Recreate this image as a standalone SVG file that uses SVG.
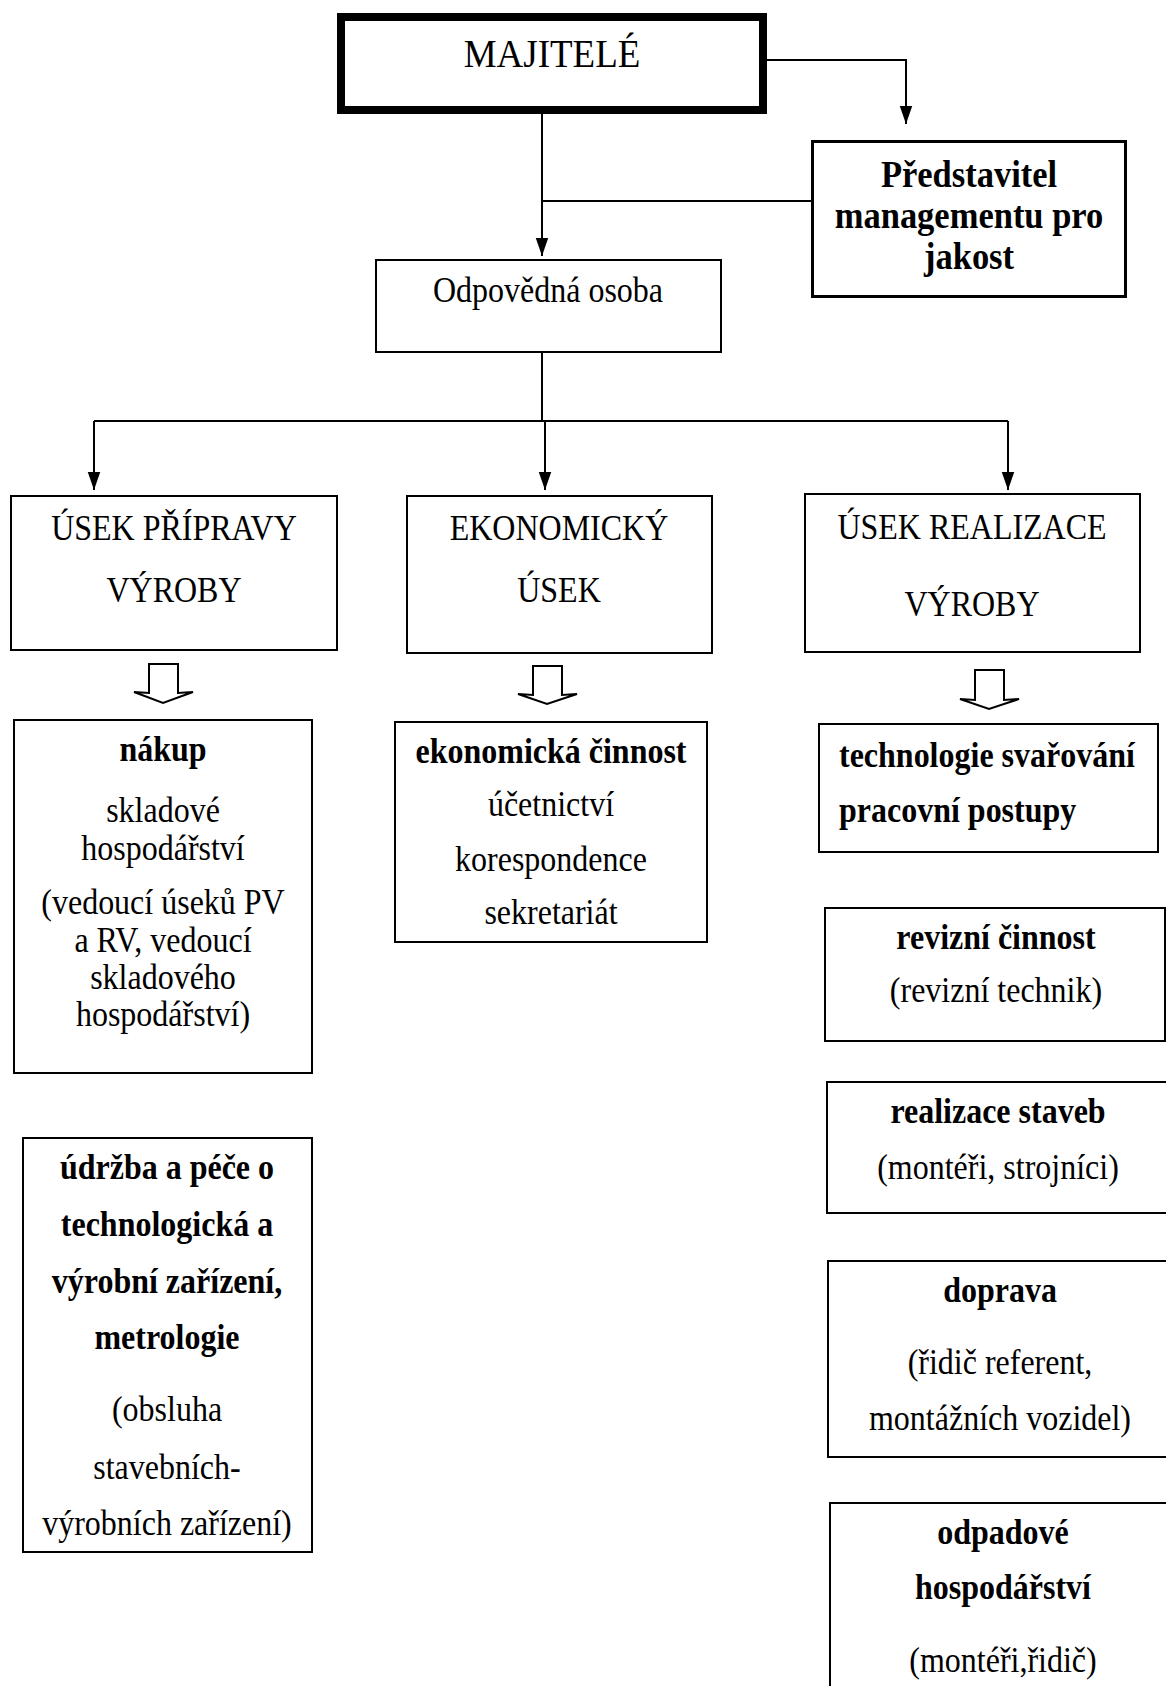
<svg xmlns="http://www.w3.org/2000/svg" width="1166" height="1686" viewBox="0 0 1166 1686">
  <style>
    text { font-family: "Liberation Serif", "Times New Roman", serif; fill: #000; text-anchor: middle; }
    .r { font-size: 32px; }
    .b { font-size: 32px; font-weight: bold; }
    .l { text-anchor: start; }
    .top { font-size: 37px; }
    .qm { font-size: 34.5px; font-weight: bold; }
    .box { fill: #fff; stroke: #000; stroke-width: 2; }
    .line { fill: none; stroke: #000; stroke-width: 2; }
    .hollow { fill: #fff; stroke: #000; stroke-width: 2; stroke-linejoin: miter; }
  </style>
  <defs>
    <marker id="arrow" markerWidth="18" markerHeight="26" refX="26" refY="9" orient="auto" markerUnits="userSpaceOnUse" viewBox="0 0 26 18">
      <path d="M0,0 L26,9 L0,18 z" fill="#000"/>
    </marker>
  </defs>

  <rect width="1166" height="1686" fill="#fff"/>

  <!-- connectors -->
  <g id="connectors">
    <path class="line" d="M767,60 H906 V124" marker-end="url(#arrow)"/>
    <path class="line" d="M542,114 V256" marker-end="url(#arrow)"/>
    <path class="line" d="M811,201 H542"/>
    <path class="line" d="M542,352 V421"/>
    <path class="line" d="M94,421 H1008"/>
    <path class="line" d="M94,421 V490" marker-end="url(#arrow)"/>
    <path class="line" d="M545,421 V490" marker-end="url(#arrow)"/>
    <path class="line" d="M1008,421 V490" marker-end="url(#arrow)"/>
    <!-- hollow block arrows below the three divisions -->
    <polygon class="hollow" points="149,664 178,664 178,693 193,692 163,703 134,692 149,693"/>
    <polygon class="hollow" points="533,666 562,666 562,695 577,694 547,704 518,694 533,695"/>
    <polygon class="hollow" points="975,670 1004,670 1004,700 1019,699 989,709 960,699 975,700"/>
  </g>

  <g id="majitele">
    <rect x="341" y="17" width="422" height="93" fill="#fff" stroke="#000" stroke-width="8"/>
    <text class="top" transform="translate(552,67) scale(1,1.1)">MAJITELÉ</text>
  </g>

  <g id="predstavitel">
    <rect x="812.5" y="141.5" width="313" height="155" fill="#fff" stroke="#000" stroke-width="3"/>
    <text class="qm" transform="translate(969,187) scale(1,1.1)">Představitel</text>
    <text class="qm" transform="translate(969,228) scale(1,1.1)">managementu pro</text>
    <text class="qm" transform="translate(969,269) scale(1,1.1)">jakost</text>
  </g>

  <g id="odpovedna">
    <rect class="box" x="376" y="260" width="345" height="92"/>
    <text class="r" transform="translate(548,302) scale(1,1.1)">Odpovědná osoba</text>
  </g>

  <g id="usek-pripravy">
    <rect class="box" x="11" y="496" width="326" height="154"/>
    <text class="r" transform="translate(174,540) scale(1,1.1)">ÚSEK PŘÍPRAVY</text>
    <text class="r" transform="translate(174,602) scale(1,1.1)">VÝROBY</text>
  </g>

  <g id="ekonomicky">
    <rect class="box" x="407" y="496" width="305" height="157"/>
    <text class="r" transform="translate(559,540) scale(1,1.1)">EKONOMICKÝ</text>
    <text class="r" transform="translate(559,602) scale(1,1.1)">ÚSEK</text>
  </g>

  <g id="usek-realizace">
    <rect class="box" x="805" y="494" width="335" height="158"/>
    <text class="r" transform="translate(972,539) scale(1,1.1)">ÚSEK REALIZACE</text>
    <text class="r" transform="translate(972,616) scale(1,1.1)">VÝROBY</text>
  </g>

  <g id="nakup">
    <rect class="box" x="14" y="720" width="298" height="353"/>
    <text class="b" transform="translate(163,761) scale(1,1.1)">nákup</text>
    <text class="r" transform="translate(163,822) scale(1,1.1)">skladové</text>
    <text class="r" transform="translate(163,860) scale(1,1.1)">hospodářství</text>
    <text class="r" transform="translate(163,914) scale(1,1.1)">(vedoucí úseků PV</text>
    <text class="r" transform="translate(163,952) scale(1,1.1)">a RV, vedoucí</text>
    <text class="r" transform="translate(163,989) scale(1,1.1)">skladového</text>
    <text class="r" transform="translate(163,1026) scale(1,1.1)">hospodářství)</text>
  </g>

  <g id="ekonomicka-cinnost">
    <rect class="box" x="395" y="722" width="312" height="220"/>
    <text class="b" transform="translate(551,763) scale(1,1.1)">ekonomická činnost</text>
    <text class="r" transform="translate(551,816) scale(1,1.1)">účetnictví</text>
    <text class="r" transform="translate(551,871) scale(1,1.1)">korespondence</text>
    <text class="r" transform="translate(551,924) scale(1,1.1)">sekretariát</text>
  </g>

  <g id="udrzba">
    <rect class="box" x="23" y="1138" width="289" height="414"/>
    <text class="b" transform="translate(167,1179) scale(1,1.1)">údržba a péče o</text>
    <text class="b" transform="translate(167,1236) scale(1,1.1)">technologická a</text>
    <text class="b" transform="translate(167,1293) scale(1,1.1)">výrobní zařízení,</text>
    <text class="b" transform="translate(167,1349) scale(1,1.1)">metrologie</text>
    <text class="r" transform="translate(167,1421) scale(1,1.1)">(obsluha</text>
    <text class="r" transform="translate(167,1479) scale(1,1.1)">stavebních-</text>
    <text class="r" transform="translate(167,1535) scale(1,1.1)">výrobních zařízení)</text>
  </g>

  <g id="technologie">
    <rect class="box" x="819" y="724" width="339" height="128"/>
    <text class="b l" transform="translate(839,767) scale(1,1.1)">technologie svařování</text>
    <text class="b l" transform="translate(839,822) scale(1,1.1)">pracovní postupy</text>
  </g>

  <g id="revizni">
    <rect class="box" x="825" y="908" width="340" height="133"/>
    <text class="b" transform="translate(996,949) scale(1,1.1)">revizní činnost</text>
    <text class="r" transform="translate(996,1002) scale(1,1.1)">(revizní technik)</text>
  </g>

  <g id="realizace-staveb">
    <rect class="box" x="827" y="1082" width="345" height="131"/>
    <text class="b" transform="translate(998,1123) scale(1,1.1)">realizace staveb</text>
    <text class="r" transform="translate(998,1179) scale(1,1.1)">(montéři, strojníci)</text>
  </g>

  <g id="doprava">
    <rect class="box" x="828" y="1261" width="345" height="196"/>
    <text class="b" transform="translate(1000,1302) scale(1,1.1)">doprava</text>
    <text class="r" transform="translate(1000,1374) scale(1,1.1)">(řidič referent,</text>
    <text class="r" transform="translate(1000,1430) scale(1,1.1)">montážních vozidel)</text>
  </g>

  <g id="odpadove">
    <rect class="box" x="830" y="1503" width="345" height="200"/>
    <text class="b" transform="translate(1003,1544) scale(1,1.1)">odpadové</text>
    <text class="b" transform="translate(1003,1599) scale(1,1.1)">hospodářství</text>
    <text class="r" transform="translate(1003,1672) scale(1,1.1)">(montéři,řidič)</text>
  </g>
</svg>
